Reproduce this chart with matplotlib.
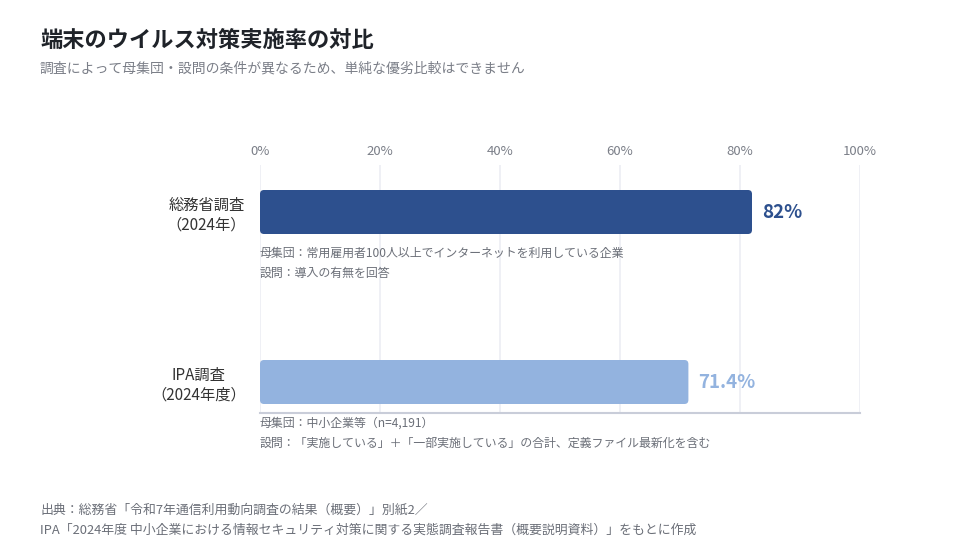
import matplotlib
matplotlib.use("Agg")
import matplotlib.pyplot as plt
from matplotlib.patches import FancyBboxPatch

plt.rcParams['font.family'] = ['Noto Sans CJK JP', 'DejaVu Sans']

categories = ["総務省調査\n（2024年）", "IPA調査\n（2024年度）"]
values = [82.0, 71.4]
value_labels = ["82%", "71.4%"]
notes = [
    "母集団：常用雇用者100人以上でインターネットを利用している企業\n設問：導入の有無を回答",
    "母集団：中小企業等（n=4,191）\n設問：「実施している」＋「一部実施している」の合計、定義ファイル最新化を含む",
]
colors = ["#2d508e", "#93b3df"]
xticks = [0, 20, 40, 60, 80, 100]
xtick_labels = ["0%", "20%", "40%", "60%", "80%", "100%"]

title = "端末のウイルス対策実施率の対比"
subtitle = "調査によって母集団・設問の条件が異なるため、単純な優劣比較はできません"
source = ("出典：総務省「令和7年通信利用動向調査の結果（概要）」別紙2／\n"
          "IPA「2024年度 中小企業における情報セキュリティ対策に関する実態調査報告書（概要説明資料）」をもとに作成")

W, H = 980, 560
fig = plt.figure(figsize=(W / 100, H / 100), dpi=100)
fig.patch.set_facecolor("white")

ax_l, ax_r, ax_t, ax_b = 260, 860, 165, 413
ax = fig.add_axes([ax_l / W, 1 - ax_b / H, (ax_r - ax_l) / W, (ax_b - ax_t) / H])

ypos = list(range(len(categories)))
bar_h = 44 / 170
bars = ax.barh(ypos, values, height=bar_h, color=colors)

# replace bars by rounded versions
px_per_x = (ax_r - ax_l) / 100
px_per_y = 170
r_px = 4
for b, c in zip(bars, colors):
    x, y = b.get_x(), b.get_y()
    w, h = b.get_width(), b.get_height()
    b.set_visible(False)
    rs = r_px / px_per_x
    p = FancyBboxPatch((x, y), w, h,
                       boxstyle=f"round,pad=0,rounding_size={rs}",
                       mutation_aspect=(r_px / px_per_y) / rs,
                       facecolor=c, edgecolor="none", zorder=3)
    ax.add_patch(p)

ax.set_xlim(0, 100)
ax.set_ylim(1 + 31 / 170, -47 / 170)

ax.set_xticks(xticks)
ax.set_xticklabels(xtick_labels)
ax.xaxis.tick_top()
ax.tick_params(axis="x", length=0, pad=5, labelsize=9.5, labelcolor="#7b7f88")
ax.set_yticks(ypos)
ax.set_yticklabels(categories, fontsize=11, color="#333333")
ax.tick_params(axis="y", length=0, pad=10)
for lab in ax.get_yticklabels():
    lab.set_multialignment("center")

ax.grid(axis="x", color="#eceef3", linewidth=1.2, zorder=0)
ax.set_axisbelow(True)
for s in ["top", "left", "right"]:
    ax.spines[s].set_visible(False)
ax.spines["bottom"].set_color("#c9cdd9")
ax.spines["bottom"].set_linewidth(1.5)

for i, (v, lab, c) in enumerate(zip(values, value_labels, colors)):
    ax.text(v + 10 / px_per_x, i, lab, va="center", ha="left",
            fontsize=13.5, fontweight="bold", color=c)

for i, note in enumerate(notes):
    ax.annotate(note, xy=(0, i + bar_h / 2), xytext=(0, -9),
                textcoords="offset points", ha="left", va="top",
                fontsize=8.6, color="#6b6f78", linespacing=1.7,
                annotation_clip=False)

fig.text(40 / W, 1 - 40 / H, title, fontsize=16, fontweight="bold",
         color="#1f2329", va="center", ha="left")
fig.text(40 / W, 1 - 68 / H, subtitle, fontsize=10, color="#7b7f88",
         va="center", ha="left")
fig.text(40 / W, 1 - 520 / H, source, fontsize=9.3, color="#6b6f78",
         va="center", ha="left", linespacing=1.75)

fig.savefig("out.png", dpi=100, facecolor="white")
